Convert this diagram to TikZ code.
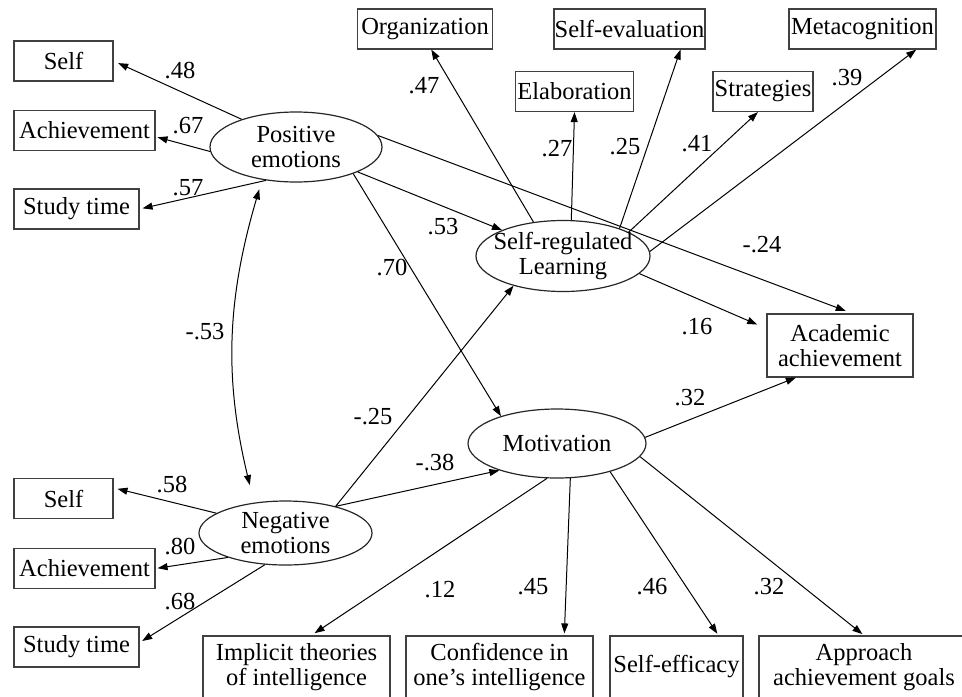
\documentclass[tikz,border=0pt]{standalone}
\usepackage{fontspec}
\setmainfont{Liberation Serif}
\usetikzlibrary{arrows.meta,shapes.geometric}

\begin{document}
\begin{tikzpicture}[x=0.5pt,y=-0.5pt,
	font=\fontsize{12.25}{12.5}\selectfont,
	>={Triangle[length=5pt,width=3.5pt]}]
\tikzset{VertexStyle/.style = 
	{shape = rectangle,
		minimum height = 20pt,
		inner xsep = 0.3pt,
		align = center,
		draw = black!75,
		line width = 0.6pt},
	LatentStyle/.style = 
	{shape = ellipse,
		inner sep = 0pt,
		draw = black!85,
		line width = 0.6pt},
	EdgeStyle/.style = {->, line width = 0.5pt},
	WeightStyle/.style = {inner sep = 0pt}}
\useasboundingbox (0,0) rectangle (962,696);

% latent variables
\node[LatentStyle, minimum width=86pt, minimum height=35pt,
	label={[align=center]center:Positive\\emotions}] (pos) at (296,147) {};
\node[LatentStyle, minimum width=86.5pt, minimum height=32pt,
	label={[align=center]center:Negative\\emotions}] (neg) at (285.5,533) {};
\node[LatentStyle, minimum width=87pt, minimum height=35.5pt,
	label={[align=center]center:Self-regulated\\Learning}] (srl) at (563,256) {};
\node[LatentStyle, minimum width=89pt, minimum height=34.5pt,
	label=center:Motivation] (mot) at (557,443.5) {};

% indicators
\node[VertexStyle, minimum width=49.5pt] (ps) at (63.5,61) {Self};
\node[VertexStyle, minimum width=70.5pt] (pa) at (84.5,130.5) {Achievement};
\node[VertexStyle, minimum width=62.5pt] (pt) at (76.5,209) {Study time};
\node[VertexStyle, minimum width=49.5pt] (ns) at (63.5,498.5) {Self};
\node[VertexStyle, minimum width=70.5pt] (na) at (84.5,568.5) {Achievement};
\node[VertexStyle, minimum width=62.5pt] (nt) at (76.5,647) {Study time};
\node[VertexStyle, minimum width=67.5pt] (org) at (425,29) {Organization};
\node[VertexStyle, minimum width=74.5pt] (seval) at (629.5,29) {Self-evaluation};
\node[VertexStyle, minimum width=73.5pt] (meta) at (862.5,29) {Metacognition};
\node[VertexStyle, minimum width=59pt] (elab) at (574.5,91.5) {Elaboration};
\node[VertexStyle, minimum width=50pt] (strat) at (763,91.5) {Strategies};
\node[VertexStyle, minimum width=73pt, minimum height=31.5pt] (acad) at (840,345.5) {Academic\\achievement};
\node[VertexStyle, minimum width=93.5pt, minimum height=31pt] (impl) at (296.5,667) {Implicit theories\\of intelligence};
\node[VertexStyle, minimum width=93.5pt, minimum height=31pt] (conf) at (499.5,667) {Confidence in\\one’s intelligence};
\node[VertexStyle, minimum width=66.5pt, minimum height=31pt] (seff) at (676.5,667) {Self-efficacy};
\node[VertexStyle, minimum width=105pt, minimum height=31pt] (appr) at (864,667) {Approach\\achievement goals};

% loadings and paths
\draw[EdgeStyle, shorten >=2.5pt] (pos.153) -- (ps.east);
\draw[EdgeStyle, shorten >=1pt] (pos.183) -- (pa.-5);
\draw[EdgeStyle, shorten >=1.5pt] (pos.228) -- (pt.east);
\draw[EdgeStyle, shorten >=2pt] (neg.164) -- (ns.12);
\draw[EdgeStyle, shorten >=1pt] (neg.203) -- (na.east);
\draw[EdgeStyle, shorten >=1.5pt] (neg.237) -- (nt.4);
\draw[<->, line width=0.5pt, shorten <=5pt, shorten >=9pt] (pos.224) to[bend right=15] (neg.136);

\draw[EdgeStyle] (pos.338) -- (srl.157);
\draw[EdgeStyle] (pos.335) -- (mot.154);
\draw[EdgeStyle, shorten >=3.5pt] (pos.8) -- (acad.69);
\draw[EdgeStyle] (neg.28) -- (srl.211);
\draw[EdgeStyle] (neg.28) -- (mot.205);

\draw[EdgeStyle] (srl.131) -- (org.-73);
\draw[EdgeStyle] (srl.77) -- (elab.south);
\draw[EdgeStyle] (srl.26) -- (seval.-22);
\draw[EdgeStyle] (srl.20) -- (strat.-104);
\draw[EdgeStyle] (srl.3) -- (meta.-21);
\draw[EdgeStyle, shorten >=5pt] (srl.-13) -- (acad.167);

\draw[EdgeStyle] (mot.4) -- (acad.-144);
\draw[EdgeStyle, shorten >=2pt] (mot.254) -- (impl.65);
\draw[EdgeStyle, shorten >=1pt] (mot.291) -- (conf.26);
\draw[EdgeStyle, shorten >=1pt] (mot.332) -- (seff.37);
\draw[EdgeStyle, shorten >=1pt] (mot.351) -- (appr.north);

% weights
\node[WeightStyle] (w1) at (180,71) {.48};
\node[WeightStyle] (w2) at (188,126) {.67};
\node[WeightStyle] (w3) at (188,188) {.57};
\node[WeightStyle] (w4) at (205,332) {-.53};
\node[WeightStyle] (w5) at (172,485) {.58};
\node[WeightStyle] (w6) at (180,547) {.80};
\node[WeightStyle] (w7) at (180,602) {.68};
\node[WeightStyle] (w8) at (443,227) {.53};
\node[WeightStyle] (w9) at (392,268) {.70};
\node[WeightStyle] (w10) at (762,245) {-.24};
\node[WeightStyle] (w11) at (424,86) {.47};
\node[WeightStyle] (w12) at (557,149) {.27};
\node[WeightStyle] (w13) at (625,147) {.25};
\node[WeightStyle] (w14) at (697,144) {.41};
\node[WeightStyle] (w15) at (847,78) {.39};
\node[WeightStyle] (w16) at (697,327) {.16};
\node[WeightStyle] (w17) at (690,398) {.32};
\node[WeightStyle] (w18) at (373,417) {-.25};
\node[WeightStyle] (w19) at (435,463) {-.38};
\node[WeightStyle] (w20) at (440,590) {.12};
\node[WeightStyle] (w21) at (533,587) {.45};
\node[WeightStyle] (w22) at (652,587) {.46};
\node[WeightStyle] (w23) at (769,587) {.32};
\end{tikzpicture}
\end{document}
